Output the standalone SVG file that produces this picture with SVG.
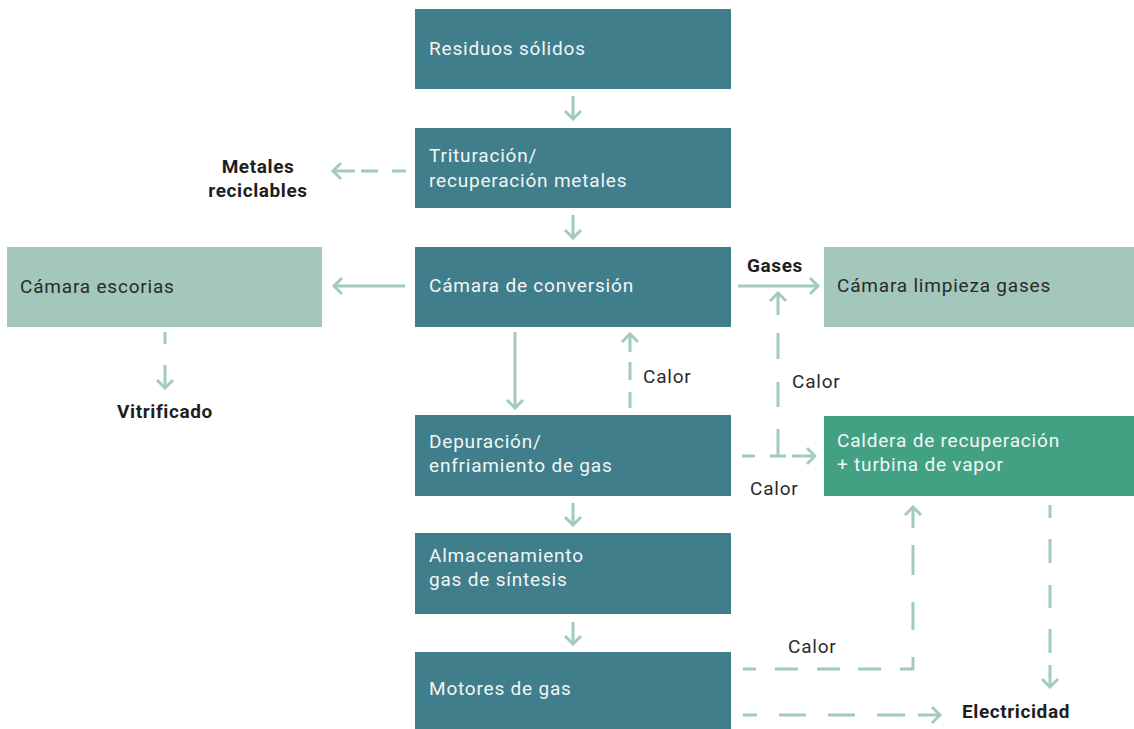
<svg xmlns="http://www.w3.org/2000/svg" width="1134" height="729" viewBox="0 0 1134 729">
<defs>
<style>
.dark{fill:#3f7e8a}
.light{fill:#a3c7ba}
.green{fill:#42a083}
.t{font-family:Roboto,"Liberation Sans",sans-serif;font-size:19px;letter-spacing:0.8px}
.tw{fill:#f2f6f6}
.td{fill:#2a2a2a}
.b{font-family:Roboto,"Liberation Sans",sans-serif;font-size:19px;font-weight:bold;letter-spacing:0.6px;fill:#1e1e1e}
.c{fill:none;stroke:#a3cbbd;stroke-width:3}
</style>
<marker id="ah" viewBox="-10 -10 12 20" markerWidth="12" markerHeight="20" refX="0" refY="0" orient="auto" markerUnits="userSpaceOnUse">
<path d="M-8,-8 L0,0 L-8,8" fill="none" stroke="#a3cbbd" stroke-width="3"/>
</marker>
</defs>
<rect width="1134" height="729" fill="#ffffff"/>

<g id="residuos"><rect class="dark" x="415" y="9" width="316" height="80"/><text class="t tw" x="429" y="55">Residuos sólidos</text></g>
<g id="trituracion"><rect class="dark" x="415" y="128" width="316" height="80"/><text class="t tw" x="429" y="162">Trituración/</text><text class="t tw" x="429" y="187">recuperación metales</text></g>
<g id="conversion"><rect class="dark" x="415" y="247" width="316" height="80"/><text class="t tw" x="429" y="292">Cámara de conversión</text></g>
<g id="depuracion"><rect class="dark" x="415" y="415" width="316" height="81"/><text class="t tw" x="429" y="448">Depuración/</text><text class="t tw" x="429" y="472">enfriamiento de gas</text></g>
<g id="almacenamiento"><rect class="dark" x="415" y="533" width="316" height="81"/><text class="t tw" x="429" y="562">Almacenamiento</text><text class="t tw" x="429" y="586">gas de síntesis</text></g>
<g id="motores"><rect class="dark" x="415" y="652" width="316" height="81"/><text class="t tw" x="429" y="695">Motores de gas</text></g>
<g id="escorias"><rect class="light" x="7" y="247" width="315" height="80"/><text class="t td" x="20" y="293">Cámara escorias</text></g>
<g id="limpieza"><rect class="light" x="824" y="247" width="310" height="80"/><text class="t td" x="837" y="292">Cámara limpieza gases</text></g>
<g id="caldera"><rect class="green" x="824" y="416" width="310" height="80"/><text class="t tw" x="837" y="447">Caldera de recuperación</text><text class="t tw" x="837" y="471">+ turbina de vapor</text></g>
<g id="metales"><text class="b" x="258" y="173" text-anchor="middle">Metales</text><text class="b" x="258" y="197" text-anchor="middle">reciclables</text></g>
<g id="vitrificado"><text class="b" x="165" y="418" text-anchor="middle">Vitrificado</text></g>
<g id="electricidad"><text class="b" x="962" y="718">Electricidad</text></g>

<g id="connectors">
<path class="c" marker-end="url(#ah)" d="M573,96 L573,119"/>
<path class="c" marker-end="url(#ah)" d="M573,215 L573,238"/>
<path class="c" marker-end="url(#ah)" d="M573,503 L573,525"/>
<path class="c" marker-end="url(#ah)" d="M573,622 L573,644"/>
<path class="c" marker-end="url(#ah)" d="M406,171 L392,171 M378,171 L361,171 M355,171 L333,171"/>
<path class="c" marker-end="url(#ah)" d="M405,286 L334,286"/>
<path class="c" marker-end="url(#ah)" d="M515,332 L515,408"/>
<path class="c" marker-end="url(#ah)" d="M630,408 L630,392 M630,380 L630,362 M630,352 L630,334"/>
<path class="c" marker-end="url(#ah)" d="M165,332 L165,344 M165,365 L165,388"/>
<path class="c" marker-end="url(#ah)" d="M738,286 L818,286"/>
<path class="c" marker-end="url(#ah)" d="M778,455 L778,429 M778,407 L778,382 M778,359 L778,333 M778,315 L778,293"/>
<path class="c" marker-end="url(#ah)" d="M742,456 L755,456 M770,456 L786,456 M792,456 L815,456"/>
<path class="c" marker-end="url(#ah)" d="M743,669 L756,669 M775,669 L798,669 M817,669 L840,669 M858,669 L881,669 M900,669 L913,669 L913,657 M913,630 L913,602 M913,575 L913,545 M913,528 L913,507"/>
<path class="c" marker-end="url(#ah)" d="M1050,505 L1050,518 M1050,539 L1050,563 M1050,585 L1050,608 M1050,629 L1050,653 M1050,665 L1050,687"/>
<path class="c" marker-end="url(#ah)" d="M743,715 L757,715 M779,715 L806,715 M828,715 L855,715 M877,715 L905,715 M918,715 L940,715"/>
<text class="t td" x="643" y="383">Calor</text>
<text class="t td" x="792" y="388">Calor</text>
<text class="t td" x="750" y="495">Calor</text>
<text class="t td" x="788" y="653">Calor</text>
<text class="b" x="747" y="272">Gases</text>
</g>
</svg>
